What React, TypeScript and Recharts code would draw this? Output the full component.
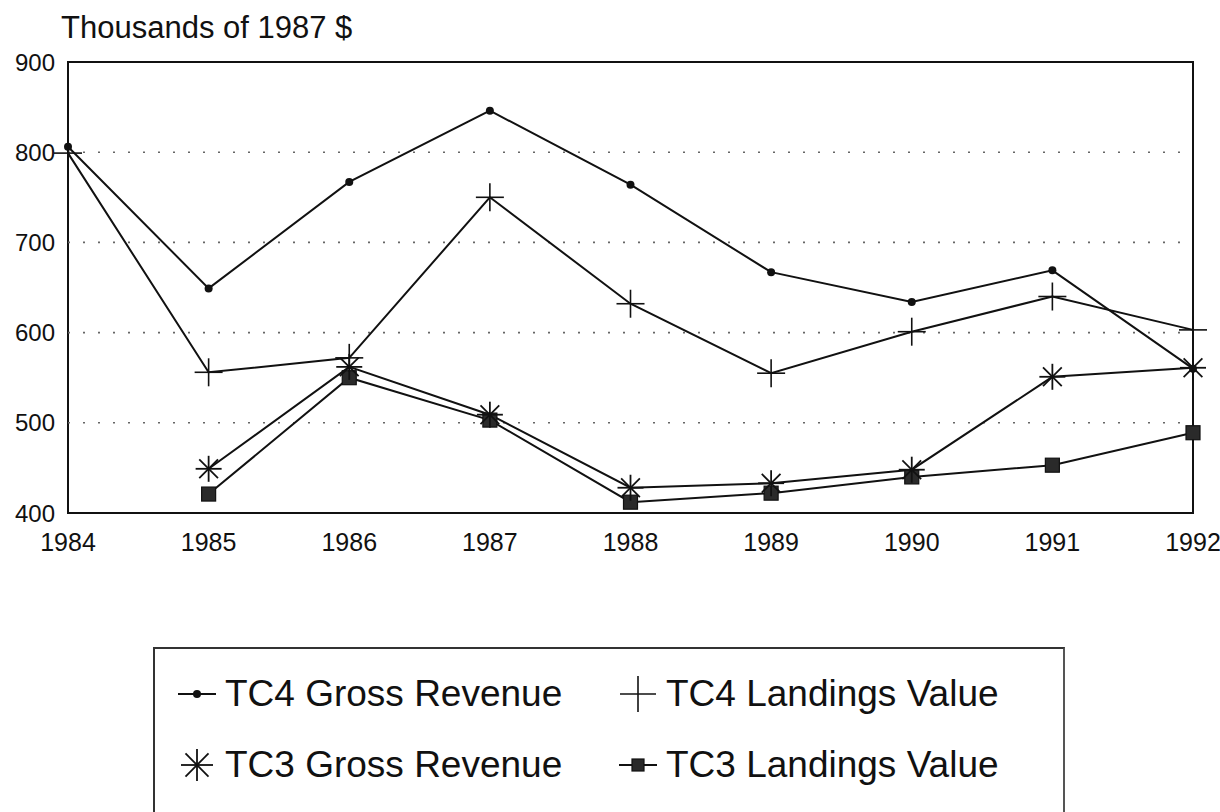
import React from 'react';
import { LineChart, Line, XAxis, YAxis, ReferenceLine, ReferenceArea } from 'recharts';

const years = [1984, 1985, 1986, 1987, 1988, 1989, 1990, 1991, 1992];
const tc4Gross = [806, 649, 767, 846, 764, 667, 634, 669, 560];
const tc4Landings = [799, 556, 572, 750, 632, 555, 601, 640, 603];
const tc3Gross = [null, 449, 562, 509, 428, 433, 448, 551, 561];
const tc3Landings = [null, 421, 550, 503, 412, 422, 440, 453, 489];
const yTicks = [400, 500, 600, 700, 800, 900];
const gridValues = [500, 600, 700, 800];

const data = years.map((year, i) => ({
  year,
  tc4Gross: tc4Gross[i],
  tc4Landings: tc4Landings[i],
  tc3Gross: tc3Gross[i],
  tc3Landings: tc3Landings[i],
}));

const INK = '#111';
const FONT = '"Liberation Sans", Arial, Helvetica, sans-serif';

type DotProps = { cx?: number | null; cy?: number | null; index?: number; value?: unknown };

function DotMark({ cx, cy }: { cx: number; cy: number }) {
  return <circle cx={cx} cy={cy} r={4} fill={INK} />;
}

function PlusMark({ cx, cy, s = 14 }: { cx: number; cy: number; s?: number }) {
  return (
    <g stroke={INK} strokeWidth={1.6}>
      <line x1={cx - s} y1={cy} x2={cx + s} y2={cy} />
      <line x1={cx} y1={cy - s} x2={cx} y2={cy + s} />
    </g>
  );
}

function StarMark({ cx, cy, s = 13 }: { cx: number; cy: number; s?: number }) {
  const d = s * 0.72;
  return (
    <g stroke={INK} strokeWidth={1.8}>
      <line x1={cx - s} y1={cy} x2={cx + s} y2={cy} />
      <line x1={cx} y1={cy - s} x2={cx} y2={cy + s} />
      <line x1={cx - d} y1={cy - d} x2={cx + d} y2={cy + d} />
      <line x1={cx - d} y1={cy + d} x2={cx + d} y2={cy - d} />
    </g>
  );
}

function SquareMark({ cx, cy, s = 7 }: { cx: number; cy: number; s?: number }) {
  return <rect x={cx - s} y={cy - s} width={s * 2} height={s * 2} fill="#2a2a2a" stroke={INK} strokeWidth={1.2} />;
}

function makeDot(Shape: React.ComponentType<{ cx: number; cy: number }>, name: string) {
  return (props: DotProps) => {
    const { cx, cy, index, value } = props;
    if (cx == null || cy == null || value == null) return <g key={`${name}-${index}`} />;
    return (
      <g key={`${name}-${index}`}>
        <Shape cx={cx} cy={cy} />
      </g>
    );
  };
}

const legendItems = [
  { label: 'TC4 Gross Revenue', kind: 'dot', left: 177, top: 694 },
  { label: 'TC4 Landings Value', kind: 'plus', left: 618, top: 694 },
  { label: 'TC3 Gross Revenue', kind: 'star', left: 177, top: 765 },
  { label: 'TC3 Landings Value', kind: 'square', left: 618, top: 765 },
];

function LegendIcon({ kind }: { kind: string }) {
  return (
    <svg width={40} height={40} style={{ display: 'block' }}>
      {kind === 'dot' && (
        <>
          <line x1={1} y1={20} x2={39} y2={20} stroke={INK} strokeWidth={2} />
          <DotMark cx={20} cy={20} />
        </>
      )}
      {kind === 'plus' && <PlusMark cx={20} cy={20} s={18} />}
      {kind === 'star' && <StarMark cx={20} cy={20} s={16} />}
      {kind === 'square' && (
        <>
          <line x1={1} y1={20} x2={39} y2={20} stroke={INK} strokeWidth={2} />
          <SquareMark cx={20} cy={20} s={6} />
        </>
      )}
    </svg>
  );
}

export default function App() {
  return (
    <div style={{ position: 'absolute', left: 0, top: 0, width: 1220, height: 812, background: '#fff', fontFamily: FONT, overflow: 'hidden' }}>
      <div style={{ position: 'absolute', left: 61, top: 10, fontSize: 31, color: INK, lineHeight: '36px' }}>
        Thousands of 1987 $
      </div>
      <LineChart width={1220} height={812} data={data} margin={{ top: 62, right: 27, bottom: 259, left: 0 }}>
        <XAxis
          dataKey="year"
          type="number"
          domain={[1984, 1992]}
          ticks={years}
          axisLine={false}
          tickLine={false}
          tickSize={6}
          tickMargin={14}
          height={40}
          tick={{ fontSize: 25, fill: INK, fontFamily: FONT }}
        />
        <YAxis
          type="number"
          domain={[400, 900]}
          ticks={yTicks}
          axisLine={false}
          tickLine={false}
          tickSize={6}
          tickMargin={7}
          width={68}
          tick={{ fontSize: 24, fill: INK, fontFamily: FONT }}
        />
        {gridValues.map((v) => (
          <ReferenceLine key={v} y={v} stroke="#666" strokeWidth={1.6} strokeDasharray="2 13" />
        ))}
        <ReferenceArea x1={1984} x2={1992} y1={400} y2={900} fill="none" stroke={INK} strokeWidth={2} ifOverflow="visible" />
        <Line dataKey="tc3Landings" stroke={INK} strokeWidth={2} isAnimationActive={false} dot={makeDot(SquareMark, 'sq')} />
        <Line dataKey="tc3Gross" stroke={INK} strokeWidth={2} isAnimationActive={false} dot={makeDot(StarMark, 'st')} />
        <Line dataKey="tc4Landings" stroke={INK} strokeWidth={2} isAnimationActive={false} dot={makeDot(PlusMark, 'pl')} />
        <Line dataKey="tc4Gross" stroke={INK} strokeWidth={2} isAnimationActive={false} dot={makeDot(DotMark, 'dt')} />
      </LineChart>
      <div
        style={{
          position: 'absolute',
          left: 153,
          top: 647,
          width: 908,
          height: 220,
          borderTop: '2px solid #333',
          borderLeft: '2px solid #333',
          borderRight: '2px solid #555',
        }}
      />
      {legendItems.map((item) => (
        <div
          key={item.label}
          style={{ position: 'absolute', left: item.left, top: item.top - 20, height: 40, display: 'flex', alignItems: 'center' }}
        >
          <LegendIcon kind={item.kind} />
          <span style={{ marginLeft: 8, fontSize: 37, color: INK, lineHeight: '40px', whiteSpace: 'nowrap' }}>{item.label}</span>
        </div>
      ))}
    </div>
  );
}
